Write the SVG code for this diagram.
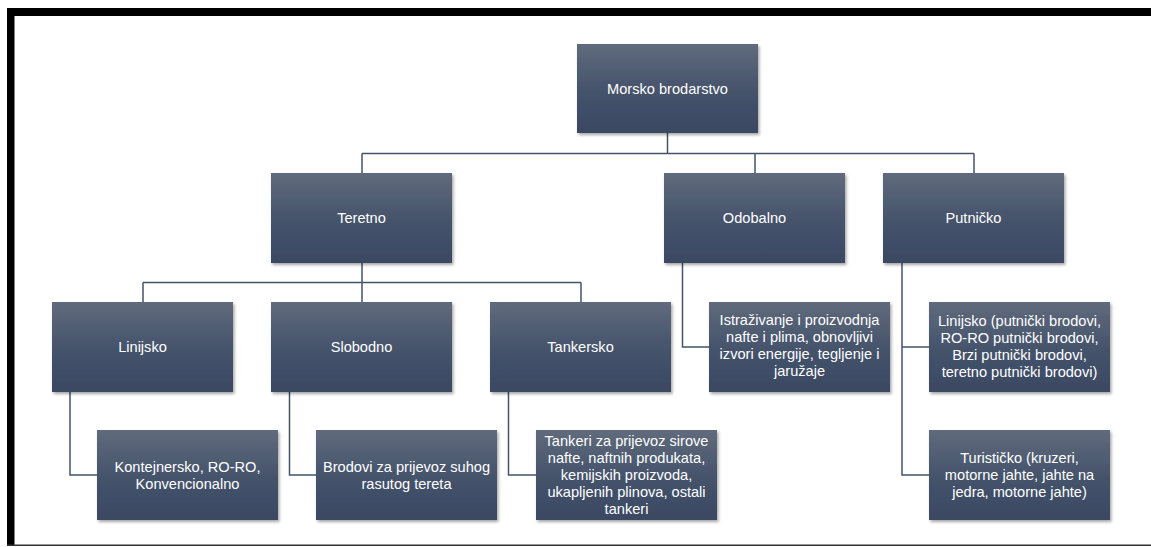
<svg xmlns="http://www.w3.org/2000/svg" width="1151" height="547" viewBox="0 0 1151 547">
<defs>
<linearGradient id="g" x1="0" y1="0" x2="0" y2="1">
<stop offset="0" stop-color="#606b7c"/>
<stop offset="0.5" stop-color="#46546c"/>
<stop offset="1" stop-color="#3a4862"/>
</linearGradient>
<filter id="sh" x="-10%" y="-10%" width="125%" height="130%">
<feDropShadow dx="1.5" dy="2" stdDeviation="1.5" flood-color="#000" flood-opacity="0.35"/>
</filter>
</defs>
<style>
.box{fill:url(#g);filter:url(#sh)}
.t{font-family:"Liberation Sans",Arial,sans-serif;font-size:14.6px;fill:#ffffff;text-anchor:middle}
.c{fill:none;stroke:#44546a;stroke-width:1.5}
</style>
<rect width="1151" height="547" fill="#ffffff"/>
<g id="frame">
<rect x="7" y="8" width="1144" height="8" fill="#000"/>
<rect x="7" y="8" width="7.5" height="538" fill="#000"/>
<rect x="7" y="544.5" width="1144" height="1.5" fill="#333"/>
</g>
<g id="connectors">
<path class="c" d="M667.5 133V153.5M362 153.5H974M362 153.5V173M755 153.5V173M974 153.5V173"/>
<path class="c" d="M362 263V282.5M143 282.5H581M143 282.5V302M362 282.5V302M581 282.5V302"/>
<path class="c" d="M70 392V475H97"/>
<path class="c" d="M289.5 392V475H316"/>
<path class="c" d="M508.5 392V475H536"/>
<path class="c" d="M682.5 263V347H709"/>
<path class="c" d="M902 263V475H929M902 347H929"/>
</g>
<g id="n-root">
<rect class="box" x="577" y="44" width="181" height="89"/>
<text class="t" x="667.5" y="93.5">Morsko brodarstvo</text>
</g>
<g id="n-teretno">
<rect class="box" x="271" y="173" width="181" height="90"/>
<text class="t" x="361.5" y="223">Teretno</text>
</g>
<g id="n-odobalno">
<rect class="box" x="664" y="173" width="181" height="90"/>
<text class="t" x="754.5" y="223">Odobalno</text>
</g>
<g id="n-putnicko">
<rect class="box" x="883" y="173" width="181" height="90"/>
<text class="t" x="973.5" y="223">Putničko</text>
</g>
<g id="n-linijsko">
<rect class="box" x="52" y="302" width="181" height="90"/>
<text class="t" x="142.5" y="352">Linijsko</text>
</g>
<g id="n-slobodno">
<rect class="box" x="271" y="302" width="181" height="90"/>
<text class="t" x="361.5" y="352">Slobodno</text>
</g>
<g id="n-tankersko">
<rect class="box" x="490" y="302" width="181" height="90"/>
<text class="t" x="580.5" y="352">Tankersko</text>
</g>
<g id="n-istrazivanje">
<rect class="box" x="709" y="302" width="181" height="90"/>
<text class="t" x="799.5" y="324.5">Istraživanje i proizvodnja</text>
<text class="t" x="799.5" y="341.5">nafte i plima, obnovljivi</text>
<text class="t" x="799.5" y="358.5">izvori energije, tegljenje i</text>
<text class="t" x="799.5" y="375.5">jaružaje</text>
</g>
<g id="n-linijsko-putnicko">
<rect class="box" x="929" y="302" width="181" height="90"/>
<text class="t" x="1019.5" y="326">Linijsko (putnički brodovi,</text>
<text class="t" x="1019.5" y="343">RO-RO putnički brodovi,</text>
<text class="t" x="1019.5" y="360">Brzi putnički brodovi,</text>
<text class="t" x="1019.5" y="377">teretno putnički brodovi)</text>
</g>
<g id="n-kontejnersko">
<rect class="box" x="97" y="430" width="181" height="90"/>
<text class="t" x="187.5" y="471.5">Kontejnersko, RO-RO,</text>
<text class="t" x="187.5" y="488.5">Konvencionalno</text>
</g>
<g id="n-brodovi">
<rect class="box" x="316" y="430" width="181" height="90"/>
<text class="t" x="406.5" y="471.5">Brodovi za prijevoz suhog</text>
<text class="t" x="406.5" y="488.5">rasutog tereta</text>
</g>
<g id="n-tankeri">
<rect class="box" x="536" y="430" width="181" height="90"/>
<text class="t" x="626.5" y="446">Tankeri za prijevoz sirove</text>
<text class="t" x="626.5" y="463">nafte, naftnih produkata,</text>
<text class="t" x="626.5" y="480">kemijskih proizvoda,</text>
<text class="t" x="626.5" y="497">ukapljenih plinova, ostali</text>
<text class="t" x="626.5" y="514">tankeri</text>
</g>
<g id="n-turisticko">
<rect class="box" x="929" y="430" width="181" height="90"/>
<text class="t" x="1019.5" y="463">Turističko (kruzeri,</text>
<text class="t" x="1019.5" y="480">motorne jahte, jahte na</text>
<text class="t" x="1019.5" y="497">jedra, motorne jahte)</text>
</g>
</svg>
